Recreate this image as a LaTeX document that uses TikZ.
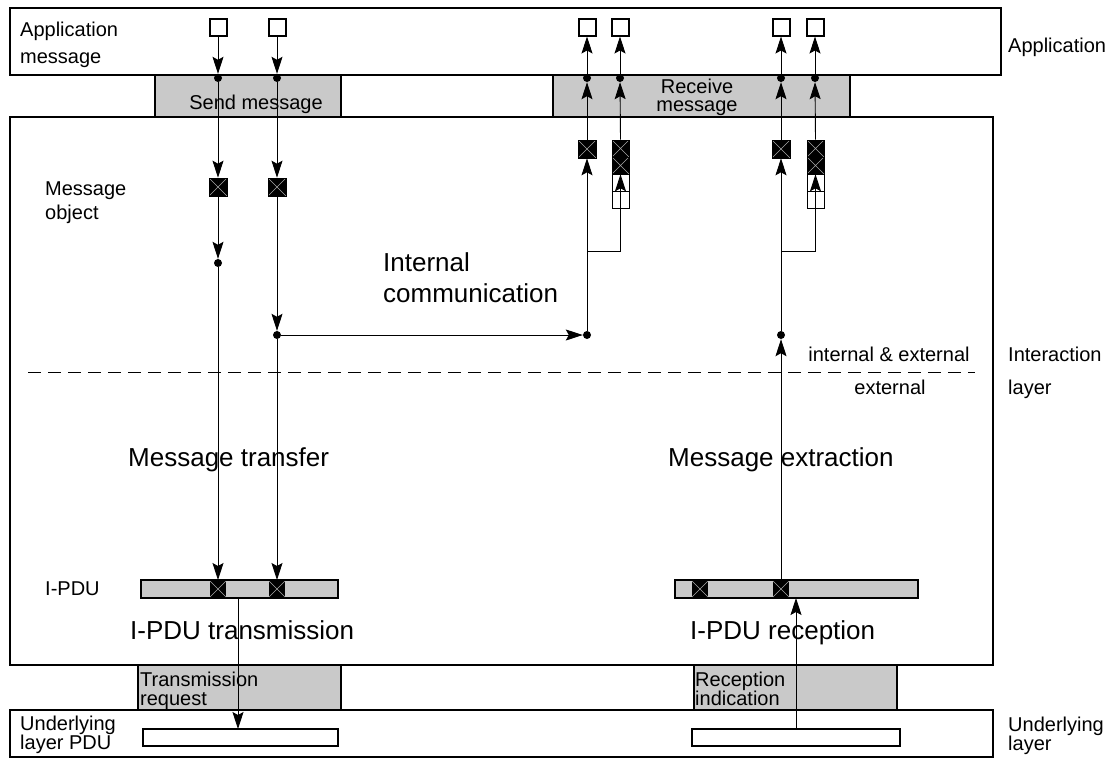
\documentclass[tikz,border=0pt]{standalone}
\usepackage{fontspec}
\setmainfont{Liberation Sans}
\usetikzlibrary{arrows.meta}
\begin{document}
\begin{tikzpicture}[x=1pt,y=-1pt,
  txt/.style={font=\fontsize{20}{24}\selectfont, inner sep=0pt, anchor=base west},
  txtc/.style={font=\fontsize{20}{24}\selectfont, inner sep=0pt, anchor=base},
  big/.style={font=\fontsize{26}{30}\selectfont, inner sep=0pt, anchor=base west},
  layerbox/.style={draw=black, line width=2pt, fill=white},
  shadebox/.style={draw=black, line width=2pt, fill=gray!42},
  sq/.style={draw=black, line width=2pt, fill=white, minimum size=17pt, inner sep=0pt},
  dotn/.style={circle, fill=black, inner sep=0pt, minimum size=8pt},
  xcell/.style={draw=black, line width=0.6pt, fill=black, inner sep=0pt,
     path picture={\draw[gray!70, line width=0.5pt]
       (path picture bounding box.south west) -- (path picture bounding box.north east)
       (path picture bounding box.north west) -- (path picture bounding box.south east);}},
  wcell/.style={draw=black, line width=0.8pt, fill=white, inner sep=0pt, minimum width=17pt, minimum height=17pt},
  bar/.style={draw=black, line width=2pt, inner sep=0pt},
  arr/.style={line width=0.9pt, -{Stealth[length=17pt,width=11pt,inset=3pt]}},
  conn/.style={line width=0.9pt},
]
\useasboundingbox (0,0) rectangle (1108,758);

% layers
\draw[layerbox] (10,8) rectangle (1001,75);
\draw[shadebox] (155,75) rectangle (341,117);
\draw[shadebox] (553,75) rectangle (850,117);
\draw[layerbox] (10,117) rectangle (993,665);
\draw[shadebox] (138,665) rectangle (341,710);
\draw[shadebox] (694,665) rectangle (897,710);
\draw[layerbox] (10,710) rectangle (993,757);

% dashed separator
\draw[line width=1pt, dash pattern=on 13pt off 7pt] (28,372) -- (975,372);

% texts
\node[txt] (tappl) at (20,36) {Application};
\node[txt] (tapm) at (20,63) {message};
\node[txt] (tapp) at (1008,52) {Application};
\node[txtc] (tsend) at (256,109) {Send message};
\node[txtc] (trec1) at (697,93) {Receive};
\node[txtc] (trec2) at (697,111) {message};
\node[txt] (tmo1) at (45,195) {Message};
\node[txt] (tmo2) at (45,219) {object};
\node[big] (tint1) at (383,271) {Internal};
\node[big] (tint2) at (383,302) {communication};
\node[txtc] (tie) at (889,361) {internal \& external};
\node[txtc] (tex) at (890,394) {external};
\node[txt] (tia) at (1008,361) {Interaction};
\node[txt] (til) at (1008,394) {layer};
\node[big] (tmt) at (128,466) {Message transfer};
\node[big] (tme) at (668,466) {Message extraction};
\node[txt] (tipdu) at (45,595) {I-PDU};
\node[big] (tipt) at (130,639) {I-PDU transmission};
\node[big] (tipr) at (690,639) {I-PDU reception};
\node[txt] (ttr1) at (140,686) {Transmission};
\node[txt] (ttr2) at (140,705) {request};
\node[txt] (tri1) at (695,686) {Reception};
\node[txt] (tri2) at (695,705) {indication};
\node[txt] (tul1) at (20,730) {Underlying};
\node[txt] (tul2) at (20,749) {layer PDU};
\node[txt] (tur1) at (1008,731) {Underlying};
\node[txt] (tur2) at (1008,750) {layer};

% application message squares
\node[sq] (s1) at (218,27) {};
\node[sq] (s2) at (277,27) {};
\node[sq] (s3) at (587,27) {};
\node[sq] (s4) at (620,27) {};
\node[sq] (s5) at (781,27) {};
\node[sq] (s6) at (815,27) {};

% dots
\node[dotn] (ds1) at (218,78) {};
\node[dotn] (ds2) at (277,78) {};
\node[dotn] (dr1) at (587,78) {};
\node[dotn] (dr2) at (620,78) {};
\node[dotn] (dr3) at (781,78) {};
\node[dotn] (dr4) at (815,78) {};
\node[dotn] (dm1) at (218,263) {};
\node[dotn] (dm2) at (277,335) {};
\node[dotn] (dm3) at (587,335) {};
\node[dotn] (dm4) at (781,335) {};

% message objects
\node[xcell, minimum size=18pt] (o1) at (218,187) {};
\node[xcell, minimum size=18pt] (o2) at (277,187) {};
\node[xcell, minimum size=18pt] (o3) at (587,149) {};
\node[xcell, minimum size=18pt] (o4) at (781,149) {};

% queues
\node[xcell, minimum width=17pt, minimum height=17pt] (qa1) at (620.5,148.5) {};
\node[xcell, minimum width=17pt, minimum height=17pt] (qa2) at (620.5,165.5) {};
\node[wcell] (qa3) at (620.5,182.5) {};
\node[wcell] (qa4) at (620.5,199.5) {};
\node[xcell, minimum width=17pt, minimum height=17pt] (qb1) at (815.5,148.5) {};
\node[xcell, minimum width=17pt, minimum height=17pt] (qb2) at (815.5,165.5) {};
\node[wcell] (qb3) at (815.5,182.5) {};
\node[wcell] (qb4) at (815.5,199.5) {};

% I-PDU bars
\node[bar, fill=gray!42, minimum width=197pt, minimum height=18pt] (b1) at (239.5,589) {};
\node[bar, fill=gray!42, minimum width=243pt, minimum height=18pt] (b2) at (796.5,589) {};
\node[xcell, line width=0pt, draw=none, minimum width=16pt, minimum height=16pt] (c1) at (218,589) {};
\node[xcell, line width=0pt, draw=none, minimum width=16pt, minimum height=16pt] (c2) at (277,589) {};
\node[xcell, line width=0pt, draw=none, minimum width=16pt, minimum height=16pt] (c3) at (700,589) {};
\node[xcell, line width=0pt, draw=none, minimum width=16pt, minimum height=16pt] (c4) at (781,589) {};
\coordinate (c1t) at (218,580);
\coordinate (c2t) at (277,580);
\coordinate (c4t) at (781,580);

% underlying PDU bars
\node[bar, fill=white, line width=1.8pt, minimum width=195pt, minimum height=17pt] (u1) at (240.5,737.5) {};
\node[bar, fill=white, line width=1.8pt, minimum width=208pt, minimum height=17pt] (u2) at (796,737.5) {};
\coordinate (b1o) at (238,598);
\coordinate (u1i) at (238,729);
\coordinate (u2o) at (796,729);
\coordinate (b2i) at (796,598);

% send path
\draw[arr] (s1.south) -- (ds1);
\draw[arr] (s2.south) -- (ds2);
\draw[arr] (ds1) -- (o1.north);
\draw[arr] (ds2) -- (o2.north);
\draw[arr] (o1.south) -- (dm1);
\draw[arr] (o2.south) -- (dm2);
\draw[arr] (dm1) -- (c1t);
\draw[arr] (dm2) -- (c2t);

% internal communication
\draw[arr] (dm2) -- (dm3);
\draw[arr] (dm3) -- (o3.south);
\coordinate (br1) at (587,251);
\coordinate (br1r) at (620.5,251);
\draw[conn] (br1) -- (br1r);
\draw[arr] (br1r) -- (qa2.south);

% extraction
\draw[arr] (c4t) -- (dm4);
\draw[arr] (dm4) -- (o4.south);
\coordinate (br2) at (781,251);
\coordinate (br2r) at (815.5,251);
\draw[conn] (br2) -- (br2r);
\draw[arr] (br2r) -- (qb2.south);

% receive path
\draw[arr] (o3.north) -- (dr1);
\draw[arr] (qa1.north) -- (dr2);
\draw[arr] (o4.north) -- (dr3);
\draw[arr] (qb1.north) -- (dr4);
\draw[arr] (dr1) -- (s3.south);
\draw[arr] (dr2) -- (s4.south);
\draw[arr] (dr3) -- (s5.south);
\draw[arr] (dr4) -- (s6.south);

% lower layer
\draw[arr] (b1o) -- (u1i);
\draw[arr] (u2o) -- (b2i);
\end{tikzpicture}
\end{document}
